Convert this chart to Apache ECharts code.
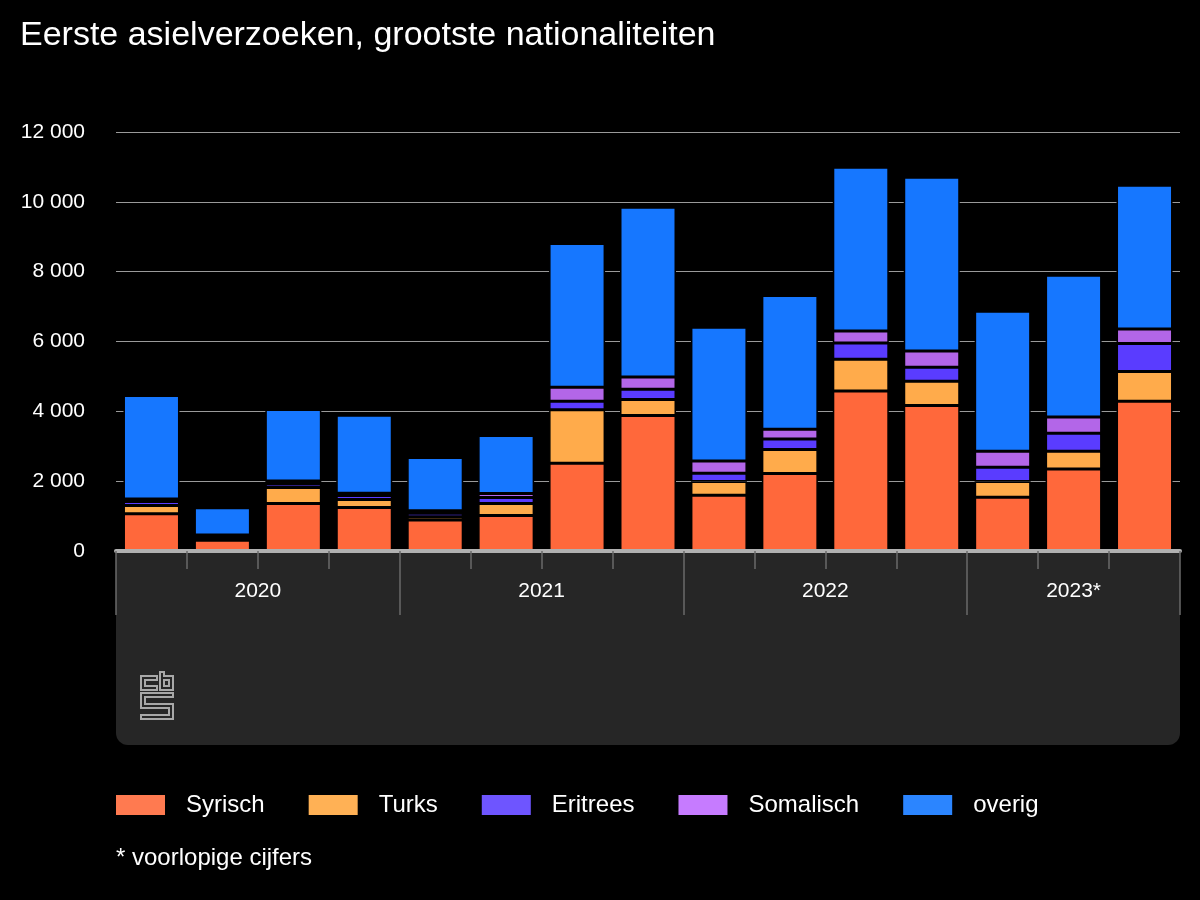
<!DOCTYPE html>
<html>
<head>
<meta charset="utf-8">
<script src="https://cdn.jsdelivr.net/npm/echarts@6/dist/echarts.min.js"></script>
<style>
html,body{margin:0;padding:0;background:#000;}
#chart{width:1200px;height:900px;}
</style>
</head>
<body>
<div id="chart"></div>
<script>
const quarters = ['2020 kw1','2020 kw2','2020 kw3','2020 kw4','2021 kw1','2021 kw2','2021 kw3','2021 kw4','2022 kw1','2022 kw2','2022 kw3','2022 kw4','2023 kw1','2023 kw2','2023 kw3'];
const yearLabels = ['2020','2021','2022','2023*'];
const yearLabelPos = [2, 6, 10, 13.5];
const yearBounds = [0, 4, 8, 12, 15];
const syrisch   = [1070, 310, 1360, 1245, 890, 1015, 2515, 3880, 1600, 2220, 4580, 4170, 1540, 2345, 4290];
const turks     = [235, 60, 460, 230, 90, 345, 1530, 460, 390, 690, 910, 690, 450, 515, 850];
const eritrees  = [115, 40, 100, 115, 100, 170, 245, 295, 240, 295, 465, 400, 410, 515, 805];
const somalisch = [70, 50, 85, 65, 70, 115, 400, 345, 345, 285, 345, 465, 460, 460, 410];
const overig    = [2960, 780, 2050, 2230, 1530, 1665, 4120, 4865, 3830, 3830, 4690, 4980, 4005, 4060, 4120];
const seriesNames = ['Syrisch','Turks','Eritrees','Somalisch','overig'];

const barColors = ['#ff683b','#ffab4b','#5a3cff','#b366e8','#1677ff'];
const legendColors = ['#ff7a50','#ffb155','#6e55ff','#c67bff','#2b85ff'];
const font = '"Liberation Sans", Arial, Helvetica, sans-serif';

const chart = echarts.init(document.getElementById('chart'), null, {renderer:'canvas'});
const dataSets = [syrisch, turks, eritrees, somalisch, overig];

const series = seriesNames.map((n, i) => ({
  name: n,
  type: 'bar',
  stack: 'total',
  xAxisIndex: 0,
  yAxisIndex: 0,
  barWidth: 56,
  data: dataSets[i],
  itemStyle: { color: barColors[i], borderColor: '#000', borderWidth: 1.5 },
  emphasis: { disabled: true }
}));

const logoStyle = { fill: 'none', stroke: '#a8a8a8', lineWidth: 2 };

const option = {
  backgroundColor: '#000',
  animation: false,
  textStyle: { fontFamily: font },
  title: {
    text: 'Eerste asielverzoeken, grootste nationaliteiten',
    left: 15, top: 14,
    textStyle: { color: '#fff', fontSize: 34, fontWeight: 'normal', fontFamily: font }
  },
  grid: { left: 116, right: 20, top: 132, bottom: 349, containLabel: false },
  legend: {
    left: 116, top: 793, padding: 0,
    itemWidth: 49, itemHeight: 20, itemGap: 44,
    icon: 'rect',
    selectedMode: false,
    textStyle: { color: '#fff', fontSize: 24, fontFamily: font, padding: [0, 0, 0, 16] },
    data: seriesNames.map((n, i) => ({ name: n, itemStyle: { color: legendColors[i], borderWidth: 0 } }))
  },
  xAxis: [
    {
      type: 'category',
      data: quarters,
      position: 'bottom',
      axisLine: { show: true, lineStyle: { color: '#b0b0b0', width: 4 } },
      axisTick: { show: true, interval: 0, length: 18, lineStyle: { color: '#6a6a6a', width: 1.5 } },
      axisLabel: { show: false },
      splitLine: { show: false },
      z: 3
    },
    {
      type: 'value',
      min: 0, max: 15,
      position: 'bottom',
      axisLine: { show: false },
      axisTick: { show: true, customValues: yearBounds, length: 64, lineStyle: { color: '#6a6a6a', width: 1.5 } },
      axisLabel: {
        show: true, customValues: yearLabelPos, margin: 30,
        color: '#fff', fontSize: 21, fontFamily: font,
        formatter: v => yearLabels[yearLabelPos.indexOf(v)]
      },
      splitLine: { show: false },
      z: 3
    }
  ],
  yAxis: {
    type: 'value',
    min: 0, max: 12000, interval: 2000,
    axisLine: { show: false },
    axisTick: { show: false },
    axisLabel: {
      color: '#fff', fontSize: 21, margin: 31, fontFamily: font, verticalAlign: 'middle', padding: [7, 0, 0, 0],
      formatter: v => String(v).replace(/\B(?=(\d{3})+(?!\d))/g, ' ')
    },
    splitLine: { lineStyle: { color: '#9a9a9a', width: 1 } }
  },
  graphic: [
    {
      type: 'rect', z: -10,
      shape: { x: 116, y: 551, width: 1064, height: 194, r: [0, 0, 12, 12] },
      style: { fill: '#262626' }
    },
    {
      type: 'polygon', z: 5,
      shape: { points: [[157,676],[141,676],[141,690],[157,690],[157,686],[145,686],[145,680],[157,680]] },
      style: logoStyle
    },
    {
      type: 'polygon', z: 5,
      shape: { points: [[160,672],[164,672],[164,676],[173,676],[173,690],[160,690]] },
      style: logoStyle
    },
    {
      type: 'rect', z: 5,
      shape: { x: 164, y: 680, width: 5, height: 6 },
      style: logoStyle
    },
    {
      type: 'polygon', z: 5,
      shape: { points: [[141,693],[173,693],[173,697],[145,697],[145,704],[173,704],[173,719],[141,719],[141,715],[169,715],[169,708],[141,708]] },
      style: logoStyle
    },
    {
      type: 'text', left: 116, top: 846, z: 5,
      style: { text: '* voorlopige cijfers', fill: '#fff', font: '24px ' + font }
    }
  ],
  series: series
};
chart.setOption(option);
</script>
</body>
</html>
